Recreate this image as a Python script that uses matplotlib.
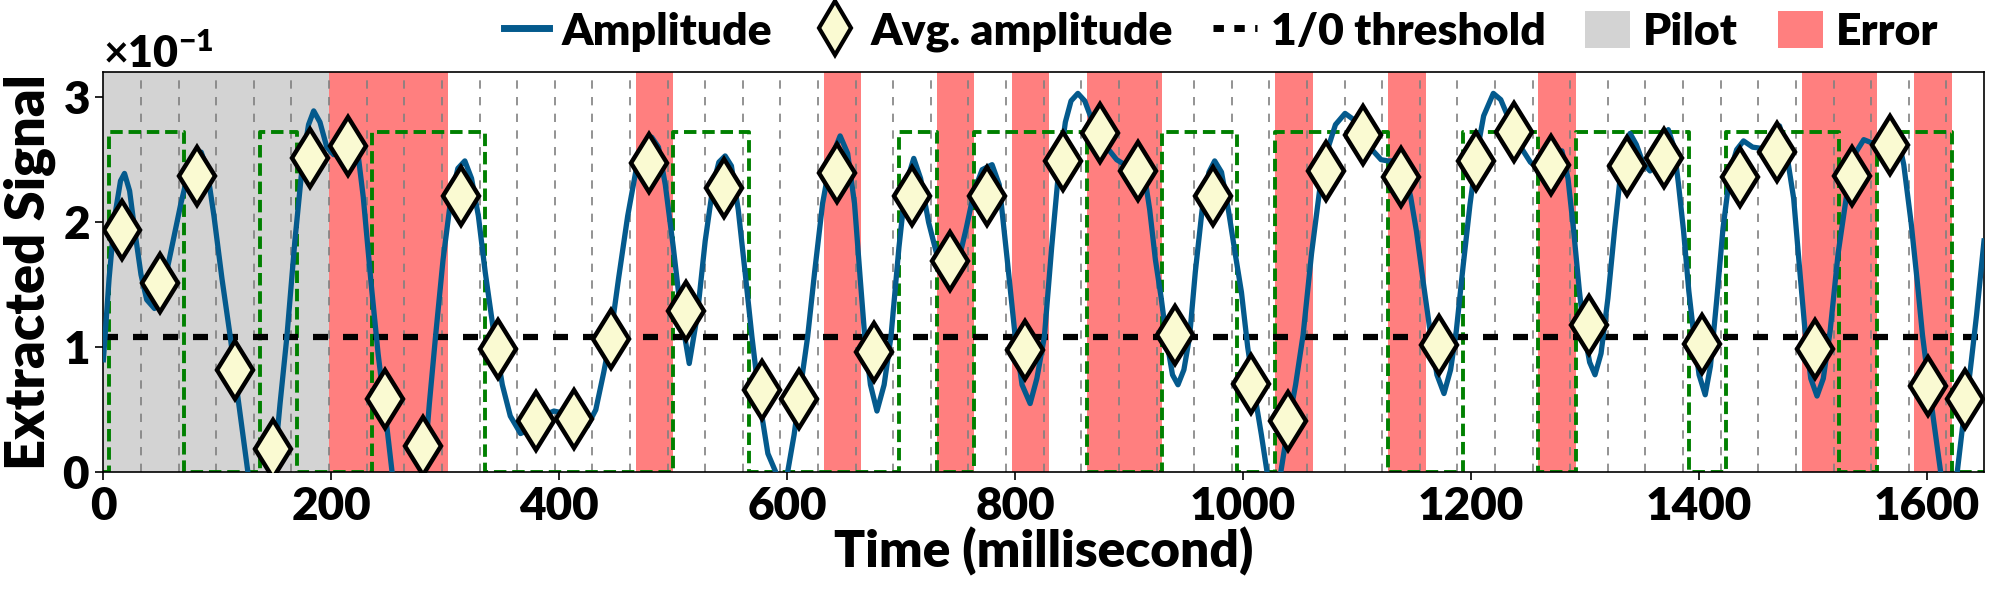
import matplotlib
matplotlib.use("Agg")
import matplotlib.pyplot as plt
from matplotlib.lines import Line2D
from matplotlib.patches import Patch

plt.rcParams['font.family'] = ['Lato', 'DejaVu Sans']
plt.rcParams['font.weight'] = 'heavy'
plt.rcParams['mathtext.fontset'] = 'custom'
plt.rcParams['mathtext.rm'] = 'Lato:bold'
plt.rcParams['mathtext.it'] = 'Lato:bold'
plt.rcParams['mathtext.bf'] = 'Lato:bold'

# symbol timing (ms)
symbol_ms = 33
n_symbols = 50
frame_offset = 5

# transmitted bits, one per symbol
bits = [1, 1, 0, 0, 1, 0, 0, 1, 1, 1,
        0, 0, 0, 0, 0, 1, 1, 0, 0, 0,
        0, 1, 0, 1, 1, 1, 0, 0, 1, 1,
        0, 1, 1, 1, 0, 0, 1, 1, 0, 1,
        1, 1, 0, 1, 1, 1, 0, 1, 1, 0]
bit_high = 0.272

# average amplitude per symbol (x1e-1)
avg_amp = [1.94, 1.51, 2.37, 0.82, 0.19, 2.51, 2.61, 0.59, 0.21, 2.21,
           0.99, 0.41, 0.43, 1.07, 2.47, 1.29, 2.27, 0.66, 0.59, 2.39,
           0.96, 2.21, 1.69, 2.21, 0.98, 2.49, 2.71, 2.41, 1.10, 2.21,
           0.71, 0.41, 2.41, 2.70, 2.36, 1.02, 2.49, 2.72, 2.46, 1.18,
           2.45, 2.51, 1.03, 2.36, 2.56, 0.99, 2.37, 2.62, 0.69, 0.59]

threshold = 0.1085

pilot_span = (0, 198)
error_spans = [(198, 302), (467, 500), (632, 665), (731, 764), (797, 830),
               (863, 929), (1028, 1061), (1127, 1160), (1259, 1292),
               (1490, 1556), (1589, 1622)]

# extracted amplitude: time (ms), value (x1e-1)
amp_t = [0, 5, 10, 15, 18.5, 23, 28, 33, 38, 44.8, 52, 60, 68, 76, 81, 85.8,
         91, 97, 104, 111.3, 118, 126.8, 132, 138, 144, 149.4, 155, 161, 168,
         175, 180, 184.5, 190, 196, 202, 209, 216.7, 222, 228, 235, 241, 247,
         253.3, 260, 267, 274, 281.1, 286, 291.4, 298, 305, 311, 317.1, 323,
         329, 335, 343, 350, 357, 366, 375, 385, 395.3, 405, 415, 424.6, 432,
         439, 445, 452, 460, 468, 474, 481, 487, 493, 500, 507, 514, 521, 528,
         535, 540, 545.5, 551, 557, 563, 569, 576, 583, 590, 595, 600.3, 606,
         612, 617.9, 624, 631, 638, 646.4, 653, 659, 664, 668, 673, 678.7,
         685, 691, 698, 704, 711, 717, 724, 731, 737, 743.7, 750, 757, 764,
         771, 779.7, 786, 793, 800, 806, 813.1, 819, 825.6, 832, 838, 844,
         849, 855, 861, 868, 875.5, 882, 889, 896, 903, 908, 913, 918, 923,
         928, 933, 938, 942.8, 948, 953, 958, 964, 970, 975, 981, 987, 993,
         998.5, 1004, 1010, 1016, 1021, 1027, 1033, 1040, 1046, 1052.6, 1060,
         1067, 1074, 1081, 1089.4, 1097, 1106, 1114, 1121, 1127, 1133, 1137,
         1142, 1147, 1152, 1158, 1164, 1170, 1176.2, 1182, 1187, 1193, 1199,
         1205, 1211, 1219.5, 1226, 1232, 1238.5, 1245, 1252, 1259, 1266, 1273,
         1279.7, 1285, 1290, 1295, 1299, 1304, 1308.7, 1314, 1320, 1326, 1332,
         1336, 1339.5, 1345, 1351, 1357, 1363, 1368, 1373, 1378, 1382, 1386.4,
         1391, 1395, 1400, 1405.4, 1410, 1415.6, 1421, 1427.4, 1433, 1439,
         1447, 1455, 1463, 1470.6, 1476, 1483, 1488, 1493, 1498, 1503.5, 1509,
         1515, 1522, 1530, 1537, 1544.5, 1550, 1556, 1563, 1569.4, 1574,
         1579.6, 1586, 1591.4, 1596, 1600, 1606, 1612, 1619, 1626.5, 1631,
         1635, 1639, 1643.5, 1650]
amp_v = [0.90, 1.55, 2.05, 2.33, 2.39, 2.25, 1.90, 1.58, 1.38, 1.31, 1.45, 1.80,
         2.15, 2.45, 2.54, 2.56, 2.42, 2.05, 1.55, 1.085, 0.60, 0.0, -0.30,
         -0.40, -0.30, 0.0, 0.55, 1.085, 1.85, 2.50, 2.78, 2.89, 2.80, 2.60,
         2.54, 2.65, 2.78, 2.65, 2.20, 1.50, 0.95, 0.50, 0.0, -0.35, -0.48,
         -0.35, 0.0, 0.55, 1.085, 1.70, 2.20, 2.43, 2.49, 2.35, 2.05, 1.60,
         1.085, 0.70, 0.45, 0.31, 0.35, 0.45, 0.49, 0.47, 0.40, 0.37, 0.50,
         0.80, 1.085, 1.55, 2.05, 2.45, 2.62, 2.68, 2.60, 2.30, 1.80, 1.25,
         0.87, 1.25, 1.85, 2.30, 2.48, 2.53, 2.45, 2.10, 1.60, 1.085, 0.55,
         0.15, 0.0, -0.15, 0.0, 0.30, 0.70, 1.085, 1.60, 2.15, 2.50, 2.69,
         2.55, 2.15, 1.55, 1.085, 0.70, 0.49, 0.70, 1.085, 1.80, 2.30, 2.51,
         2.35, 2.00, 1.75, 1.62, 1.59, 1.68, 1.95, 2.25, 2.42, 2.46, 2.30,
         1.70, 1.085, 0.70, 0.55, 0.75, 1.085, 1.80, 2.40, 2.80, 2.97, 3.03,
         2.97, 2.80, 2.70, 2.58, 2.50, 2.46, 2.48, 2.49, 2.40, 2.10, 1.70,
         1.40, 1.05, 0.78, 0.70, 0.82, 1.085, 1.60, 2.10, 2.40, 2.49, 2.40,
         2.10, 1.75, 1.44, 1.00, 0.63, 0.30, 0.0, -0.20, 0.0, 0.40, 0.70,
         1.10, 1.75, 2.25, 2.58, 2.78, 2.87, 2.82, 2.70, 2.57, 2.50, 2.49,
         2.49, 2.49, 2.40, 2.20, 1.93, 1.52, 1.13, 0.78, 0.63, 0.82, 1.13,
         1.65, 2.14, 2.55, 2.85, 3.03, 2.98, 2.85, 2.72, 2.58, 2.48, 2.43,
         2.45, 2.53, 2.57, 2.35, 1.93, 1.45, 1.13, 0.88, 0.78, 0.95, 1.39,
         1.95, 2.46, 2.65, 2.71, 2.62, 2.47, 2.41, 2.50, 2.66, 2.74, 2.60,
         2.30, 1.93, 1.45, 1.13, 0.78, 0.62, 0.85, 1.39, 1.95, 2.41, 2.58,
         2.65, 2.60, 2.59, 2.68, 2.77, 2.60, 2.19, 1.65, 1.13, 0.75, 0.61,
         0.75, 1.13, 1.75, 2.25, 2.55, 2.66, 2.64, 2.62, 2.70, 2.78, 2.70,
         2.46, 2.00, 1.53, 1.10, 0.81, 0.40, 0.0, -0.25, 0.0, 0.35, 0.59,
         0.90, 1.26, 1.85]

fig = plt.figure(figsize=(20, 6), dpi=100)
ax = fig.add_axes([0.0517, 0.2128, 0.9403, 0.667])

ax.axvspan(pilot_span[0], pilot_span[1], color='#d3d3d3', lw=0, zorder=0)
for s, e in error_spans:
    ax.axvspan(s, e, color='#ff7f7f', lw=0, zorder=0)

for k in range(1, n_symbols):
    ax.axvline(k * symbol_ms, color='gray', ls=(0, (5, 5)), lw=1.2, zorder=1)

edges = [0] + [frame_offset + k * symbol_ms for k in range(n_symbols)] + [n_symbols * symbol_ms]
levels = [0] + [b * bit_high for b in bits] + [bits[-1] * bit_high]
ax.step(edges, levels, where='post', color='green', ls=(0, (3.2, 1.5)), lw=2.8, zorder=2)

ax.axhline(threshold, color='black', ls=(0, (2.4, 2.4)), lw=4.5, zorder=3)

ax.plot(amp_t, [v * 0.1 for v in amp_v], color='#045a8d', lw=3.8, zorder=4)

centers = [k * symbol_ms + symbol_ms / 2 for k in range(n_symbols)]
ax.plot(centers, [v * 0.1 for v in avg_amp], ls='none', marker='d', ms=30,
        mfc='#fafad2', mec='black', mew=3.2, zorder=5)

ax.set_xlim(0, 1650)
ax.set_ylim(0, 0.32)
ax.set_xticks([0, 200, 400, 600, 800, 1000, 1200, 1400, 1600])
ax.set_yticks([0, 0.1, 0.2, 0.3])
ax.ticklabel_format(axis='y', style='sci', scilimits=(0, 0), useMathText=True)
ax.tick_params(labelsize=33, length=6, width=1.2, pad=4)
ax.yaxis.get_offset_text().set_fontsize(31)
for sp in ax.spines.values():
    sp.set_linewidth(1.2)

ax.set_xlabel('Time (millisecond)', fontsize=37, fontweight='heavy', labelpad=0)
ax.set_ylabel('Extracted Signal', fontsize=39, fontweight='heavy', labelpad=4)

handles = [
    Line2D([], [], color='#045a8d', lw=5),
    Line2D([], [], ls='none', marker='d', ms=28, mfc='#fafad2', mec='black', mew=3),
    Line2D([], [], color='black', ls=(0, (1.5, 1.5)), lw=5),
    Patch(facecolor='#d3d3d3'),
    Patch(facecolor='#ff7f7f'),
]
labels = ['Amplitude', 'Avg. amplitude', '1/0 threshold', 'Pilot', 'Error']
fig.legend(handles, labels, loc='center right', bbox_to_anchor=(0.978, 0.947),
           ncol=5, frameon=False, fontsize=32, handlelength=1.0, handleheight=0.9,
           handletextpad=0.3, columnspacing=0.9, borderaxespad=0)

fig.savefig('out.png', dpi=100)
